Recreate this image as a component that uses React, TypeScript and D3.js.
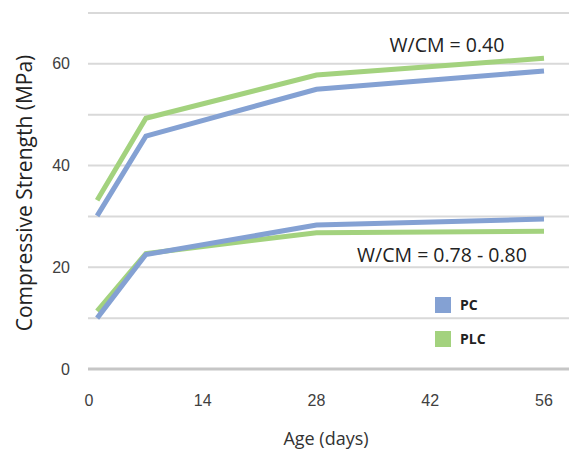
import React from "react";
import * as d3 from "d3";

const days = [1, 7, 28, 56];
const pc040 = [30.1, 45.8, 55.0, 58.6];
const plc040 = [33.2, 49.3, 57.8, 61.1];
const pc078 = [10.0, 22.5, 28.3, 29.5];
const plc078 = [11.4, 22.7, 26.8, 27.1];
const xTicks = [0, 14, 28, 42, 56];
const yTicks = [0, 20, 40, 60];
const gridValues = [0, 10, 20, 30, 40, 50, 60, 70];

const W = 569;
const H = 453;
const BLUE = "#84A1D3";
const GREEN = "#A3D27E";

export default function App() {
  const x = d3.scaleLinear().domain([0, 56]).range([89, 544]);
  const y = d3.scaleLinear().domain([0, 70]).range([369, 13]);
  const line = d3
    .line<number>()
    .x((_, i) => x(days[i]))
    .y((d) => y(d));

  const series = [
    { v: pc040, c: BLUE },
    { v: plc040, c: GREEN },
    { v: plc078, c: GREEN },
    { v: pc078, c: BLUE },
  ];

  return (
    <svg
      width={W}
      height={H}
      style={{ position: "absolute", left: 0, top: 0, background: "#fff" }}
    >
      {gridValues.map((g) => (
        <line
          key={g}
          x1={88}
          x2={W}
          y1={y(g)}
          y2={y(g)}
          stroke={g === 0 ? "#c6c6c6" : "#d9d9d9"}
          strokeWidth={g === 0 ? 3 : 2}
        />
      ))}
      {yTicks.map((t) => (
        <text
          key={t}
          x={70}
          y={y(t)}
          dy="0.35em"
          textAnchor="end"
          fontFamily="Liberation Sans, Arial, sans-serif"
          fontSize={16}
          fill="#404040"
        >
          {t}
        </text>
      ))}
      {xTicks.map((t) => (
        <text
          key={t}
          x={x(t)}
          y={400}
          dy="0.35em"
          textAnchor="middle"
          fontFamily="Liberation Sans, Arial, sans-serif"
          fontSize={16}
          fill="#404040"
        >
          {t}
        </text>
      ))}
      {series.map((s, i) => (
        <path
          key={i}
          d={line(s.v) || ""}
          fill="none"
          stroke={s.c}
          strokeWidth={5}
          strokeLinejoin="miter"
        />
      ))}
      <text
        transform={`translate(25,193) rotate(-90)`}
        textAnchor="middle"
        dy="0.35em"
        fontFamily="Open Sans, sans-serif"
        fontSize={21}
        fill="#222"
      >
        Compressive Strength (MPa)
      </text>
      <text
        x={326}
        y={439}
        textAnchor="middle"
        dy="0.35em"
        fontFamily="Open Sans, sans-serif"
        fontSize={18}
        fill="#333"
      >
        Age (days)
      </text>
      <text
        x={447}
        y={45}
        textAnchor="middle"
        dy="0.35em"
        fontFamily="Open Sans, sans-serif"
        fontSize={19.5}
        fill="#222"
      >
        W/CM = 0.40
      </text>
      <text
        x={442}
        y={255}
        textAnchor="middle"
        dy="0.35em"
        fontFamily="Open Sans, sans-serif"
        fontSize={19.5}
        fill="#222"
      >
        W/CM = 0.78 - 0.80
      </text>
      <rect x={435} y={297} width={16} height={16} fill={BLUE} />
      <rect x={435} y={331} width={16} height={16} fill={GREEN} />
      <text
        x={460}
        y={305}
        dy="0.35em"
        fontFamily="Open Sans, sans-serif"
        fontWeight="bold"
        fontSize={14}
        fill="#222"
      >
        PC
      </text>
      <text
        x={460}
        y={339}
        dy="0.35em"
        fontFamily="Open Sans, sans-serif"
        fontWeight="bold"
        fontSize={14}
        fill="#222"
      >
        PLC
      </text>
    </svg>
  );
}
